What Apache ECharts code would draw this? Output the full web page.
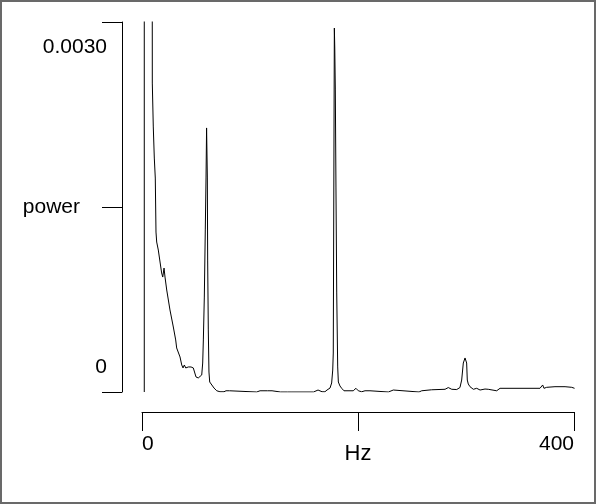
<!DOCTYPE html>
<html>
<head>
<meta charset="utf-8">
<script src="https://cdn.jsdelivr.net/npm/echarts@6/dist/echarts.min.js"></script>
<style>
  html, body { margin: 0; padding: 0; background: #fff; }
  #chart { width: 596px; height: 504px; }
</style>
</head>
<body>
<div id="chart"></div>
<script>
const freqHz = [2.1, 2.2, 9.4, 9.54, 10.46, 11.39, 12.31, 12.96, 13.6, 15.1, 16.7, 18.2, 19.2, 20.4, 21.3, 22.9, 25.9, 29.0, 31.2, 32.1, 33.1, 35.2, 36.8, 38.0, 39.2, 40.5, 41.7, 42.9, 44.2, 45.4, 46.6, 47.5, 49.1, 50.0, 52.1, 53.7, 55.3, 56.2, 56.8, 57.7, 58.6, 59.3, 59.8, 60.5, 60.8, 61.4, 62.0, 62.7, 64.5, 66.7, 69.2, 72.2, 75.9, 77.8, 81.0, 82.4, 106.2, 107.7, 109.3, 110.8, 113.9, 116.2, 117.1, 118.5, 120.4, 121.8, 128.2, 129.6, 131.5, 134.7, 136.1, 138.0, 158.8, 160.6, 163.0, 164.8, 166.7, 169.4, 171.3, 172.7, 174.1, 175.6, 176.6, 177.1, 178.1, 178.5, 179.0, 179.6, 180.3, 181.2, 181.8, 183.3, 184.9, 187.0, 195.6, 198.1, 200.3, 203.4, 206.5, 208.1, 211.1, 212.7, 228.1, 229.0, 232.7, 234.3, 256.5, 259.0, 268.2, 280.6, 283.6, 286.8, 291.4, 292.9, 294.4, 296.0, 297.5, 299.1, 300.0, 300.6, 301.2, 302.1, 303.7, 306.8, 309.9, 313.0, 317.6, 320.6, 328.4, 331.5, 368.5, 371.0, 372.2, 374.7, 382.4, 384.0, 391.7, 393.2, 397.9, 399.4, 400.5];
const power = [0, 0.05, 0.006, 0.002505, 0.002149, 0.001897, 0.001735, 0.001297, 0.001216, 0.001151, 0.001054, 0.000965, 0.000932, 0.001005, 0.000932, 0.000827, 0.000665, 0.000527, 0.000422, 0.000357, 0.000365, 0.000284, 0.000219, 0.000195, 0.000219, 0.000195, 0.000211, 0.000203, 0.000219, 0.000203, 0.000211, 0.000195, 0.000203, 0.000122, 0.000114, 0.000122, 0.000138, 0.000235, 0.000422, 0.00077, 0.001314, 0.001743, 0.002141, 0.001743, 0.00107, 0.000503, 0.000162, 0.000081, 0.000073, 0.000032, 0.00001, 0.000002, 0.000002, 0.00001, 0.00001, 0, 0, 0.00001, 0.00001, 0, 0.00001, 0.00001, 0, 0.00001, 0.00001, 0, 0, 0.00001, 0, 0, 0.00001, 0, 0, 0.000016, 0.000016, 0, 0.000002, 0.000002, 0.000016, 0.000022, 0.000032, 0.000073, 0.000178, 0.000316, 0.002951, 0.002789, 0.002449, 0.001662, 0.000803, 0.000203, 0.000081, 0.000049, 0.00003, 0.00001, 0.00001, 0.00003, 0.00001, 0.000002, 0.00001, 0, 0.00001, 0, 0, 0.000016, 0.000016, 0, 0, 0.00001, 0.000018, 0.000022, 0.000036, 0.000022, 0.00002, 0.000016, 0.000036, 0.000097, 0.000235, 0.000276, 0.000292, 0.000235, 0.000097, 0.000065, 0.000043, 0.000022, 0.00003, 0.000016, 0.000024, 0.000022, 0.00001, 0.00003, 0.00003, 0.000057, 0.00003, 0.000038, 0.000043, 0.00003, 0.000043, 0.000049, 0.000038, 0.000049, 0.00003];

const yTickLabels = ['0', '', '0.0030'];
const xTickLabels = ['0', '', '400'];
const yName = 'power';
const xName = 'Hz';

const FONT = '"Liberation Sans", Arial, sans-serif';
const chart = echarts.init(document.getElementById('chart'), null, { renderer: 'canvas' });

chart.setOption({
  animation: false,
  backgroundColor: '#ffffff',
  grid: { left: 142, right: 22, top: 22, bottom: 112, containLabel: false, outerBoundsMode: 'none' },
  graphic: [{
    type: 'rect',
    shape: { x: 1, y: 1, width: 594, height: 502 },
    style: { fill: 'none', stroke: '#696969', lineWidth: 2 },
    silent: true
  }],
  xAxis: {
    type: 'value',
    min: 0, max: 400, interval: 200,
    offset: 20,
    name: xName,
    nameLocation: 'middle',
    nameGap: 31,
    nameMoveOverlap: false,
    nameTextStyle: { color: '#000', fontFamily: FONT, fontSize: 22 },
    axisLine: { show: true, onZero: false, lineStyle: { color: '#000', width: 1 } },
    axisTick: { show: true, length: 19, lineStyle: { color: '#000', width: 1 } },
    splitLine: { show: false },
    axisLabel: {
      color: '#000', fontFamily: FONT, fontSize: 21, margin: 22,
      alignMinLabel: 'left', alignMaxLabel: 'right',
      formatter: (v) => xTickLabels[Math.round(v / 200)] ?? ''
    }
  },
  yAxis: {
    type: 'value',
    min: 0, max: 0.003, interval: 0.0015,
    offset: 20,
    name: yName,
    nameLocation: 'middle',
    nameRotate: 0,
    nameGap: 42,
    nameMoveOverlap: false,
    nameTextStyle: { color: '#000', fontFamily: FONT, fontSize: 21, align: 'right', verticalAlign: 'middle' },
    axisLine: { show: true, onZero: false, lineStyle: { color: '#000', width: 1 } },
    axisTick: { show: true, length: 20, lineStyle: { color: '#000', width: 1 } },
    splitLine: { show: false },
    axisLabel: {
      color: '#000', fontFamily: FONT, fontSize: 21, margin: 15,
      formatter: (v) => {
        const i = Math.round(v / 0.0015);
        const t = yTickLabels[i] ?? '';
        if (!t) return '';
        if (i === 0) return '{bot|' + t + '}';
        if (i === 2) return '{top|' + t + '}';
        return t;
      },
      rich: {
        top: { fontFamily: FONT, fontSize: 21, color: '#000', padding: [50, 0, 0, 0] },
        bot: { fontFamily: FONT, fontSize: 21, color: '#000', padding: [0, 0, 50, 0] }
      }
    }
  },
  series: [{
    type: 'line',
    data: freqHz.map((f, i) => [f, power[i]]),
    showSymbol: false,
    symbol: 'none',
    clip: true,
    lineStyle: { color: '#000', width: 1 },
    silent: true
  }]
});
</script>
</body>
</html>
